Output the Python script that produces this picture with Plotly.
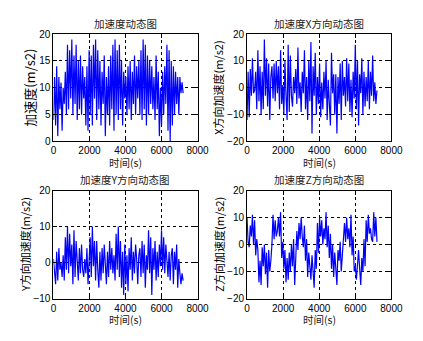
import plotly.graph_objects as go

W, H = 423, 341

# time axis (s)
t = list(range(0, 7201, 60))

acc_total = [4,12,3,14,1,12,6,11,2,10,
             7,13,5,18,6,17,8,19,5,16,
             7,18,4,15,6,16,5,14,8,12,
             3,14,2,17,5,16,3,18,8,19,
             4,17,6,15,3,13,7,16,1,12,
             5,14,3,16,6,18,2,19,5,17,
             4,18,6,15,3,13,8,12,5,14,
             6,15,4,13,7,16,5,14,8,15,
             5,17,4,19,6,18,3,16,5,15,
             7,14,6,12,4,16,6,13,1,10,
             3,13,5,14,7,18,2,17,0,15,
             3,14,5,13,7,12,5,12,9,11,
             9]

acc_x = [-12,6,-11,7,-3,11,-2,-1,6,-8,
         14,-5,8,-10,6,-8,18,-3,11,-7,
         9,-12,4,8,-4,9,-5,10,-2,8,
         -8,14,-6,1,-10,10,-3,-12,16,-9,
         12,-3,-7,4,-2,7,-6,15,-4,2,
         -9,6,-2,14,-8,4,-12,10,-5,17,
         -17,8,-3,13,-10,4,-6,9,-11,2,
         -8,6,-4,10,-12,3,-6,-14,13,-2,
         5,-10,5,-17,4,-6,9,-12,10,-3,
         4,-7,11,-5,9,-9,3,-11,6,-4,
         16,-8,10,-14,5,-2,11,-10,6,-7,
         4,-5,10,-8,6,-3,12,-5,2,-6,
         -1]

acc_y = [1,-4,-6,3,-5,4,-2,0,-4,2,
         -5,7,-2,10,-3,8,-1,5,-6,9,
         -4,6,-2,-5,4,-3,5,-2,-4,1,
         -3,4,-6,3,7,-4,10,-1,6,-5,
         6,-2,-7,3,-5,4,-3,5,-1,-6,
         3,-4,6,-2,4,-3,2,-5,8,-2,
         10,-4,6,-7,3,-9,5,-6,2,-8,
         4,-2,7,-5,3,-3,5,1,-6,2,
         4,-4,6,-3,5,-7,2,-2,9,-3,
         7,-9,4,-2,6,-5,3,-4,5,-1,
         9,-2,7,-3,5,0,-4,3,-5,2,
         4,-6,3,-2,5,-7,1,-3,-6,-3,
         -5]

acc_z = [10,1,-1,7,3,11,0,9,-4,2,
         -2,-14,-6,-15,-1,-8,0,-11,-3,-16,
         -2,-10,-6,0,11,2,9,3,5,10,
         3,12,-5,1,-9,-2,-14,-5,-13,-3,
         -10,0,-8,2,-15,-6,5,-2,8,2,
         10,3,-1,7,-6,2,-12,-3,-7,-13,
         -4,-10,-16,-2,-9,8,-3,10,3,9,
         0,6,2,12,-1,7,-5,4,-9,0,
         -12,-3,-8,-15,-2,-6,1,-10,-4,3,
         8,1,10,2,6,-1,11,-4,3,-10,
         -8,-13,-6,-2,-9,-15,-5,-10,2,-8,
         9,1,11,4,6,2,1,12,3,10,
         1]

titles = ["加速度动态图", "加速度X方向动态图", "加速度Y方向动态图", "加速度Z方向动态图"]
ylabels = ["加速度(m/s2)", "X方向加速度(m/s2)", "Y方向加速度(m/s2)", "Z方向加速度(m/s2)"]
xlabel = "时间(s)"
yranges = [[0, 20], [-20, 20], [-10, 20], [-20, 20]]
ytick_sets = [[0, 5, 10, 15, 20], [-20, -10, 0, 10, 20], [-10, 0, 10, 20], [-20, -10, 0, 10, 20]]
xticks = [0, 2000, 4000, 6000, 8000]

def px(x):
    return x / W

def py(y):
    return 1 - y / H

# plot boxes in pixels: (left, right, top, bottom)
boxes = [(52.3, 201.7, 29, 140), (253, 402.7, 29, 140),
         (52.3, 201.7, 190.7, 302.3), (253, 402.7, 190.7, 302.3)]

series = [acc_total, acc_x, acc_y, acc_z]

fig = go.Figure()
layout = dict(width=W, height=H, margin=dict(l=0, r=0, t=0, b=0),
              paper_bgcolor="white", plot_bgcolor="white", showlegend=False)
annotations = []
tickfont = dict(family="Liberation Sans, Arial", size=10, color="black")
cjk = "Noto Sans CJK SC"

for i, (box, ys) in enumerate(zip(boxes, series)):
    n = i + 1
    xa = "x" if n == 1 else f"x{n}"
    ya = "y" if n == 1 else f"y{n}"
    fig.add_trace(go.Scatter(x=t, y=ys, mode="lines", xaxis=xa, yaxis=ya,
                             line=dict(color="#0000ff", width=1.2)))
    l, r, tp, b = box
    common = dict(showline=True, linecolor="black", linewidth=1, mirror="allticks",
                  ticks="inside", ticklen=4, tickcolor="black", showgrid=True,
                  gridcolor="black", griddash="3px,3px", gridwidth=1, zeroline=False,
                  tickfont=tickfont)
    layout[f"xaxis{'' if n == 1 else n}"] = dict(domain=[px(l), px(r)], range=[0, 8000],
        tickvals=xticks, anchor=ya, **common)
    layout[f"yaxis{'' if n == 1 else n}"] = dict(domain=[py(b), py(tp)], range=yranges[i],
        tickvals=ytick_sets[i], anchor=xa, **common)
    cx = (l + r) / 2
    annotations.append(dict(text=titles[i], x=px(cx), y=py(tp - 11), xref="paper", yref="paper",
                            showarrow=False, font=dict(family=cjk, size=10.5, color="#222"),
                            xanchor="center", yanchor="middle"))
    annotations.append(dict(text=xlabel, x=px(cx), y=py(b + 22), xref="paper", yref="paper",
                            showarrow=False, font=dict(family=cjk, size=10.5, color="#222"),
                            xanchor="center", yanchor="middle"))
    ylx = 28 if i == 0 else (l - 30)
    annotations.append(dict(text=ylabels[i], x=px(ylx), y=py((tp + b) / 2), xref="paper", yref="paper",
                            showarrow=False, textangle=-90,
                            font=dict(family=cjk, size=13 if i == 0 else 11, color="black"),
                            xanchor="center", yanchor="middle"))

layout["annotations"] = annotations
fig.update_layout(**layout)
fig.write_html("out.html")
